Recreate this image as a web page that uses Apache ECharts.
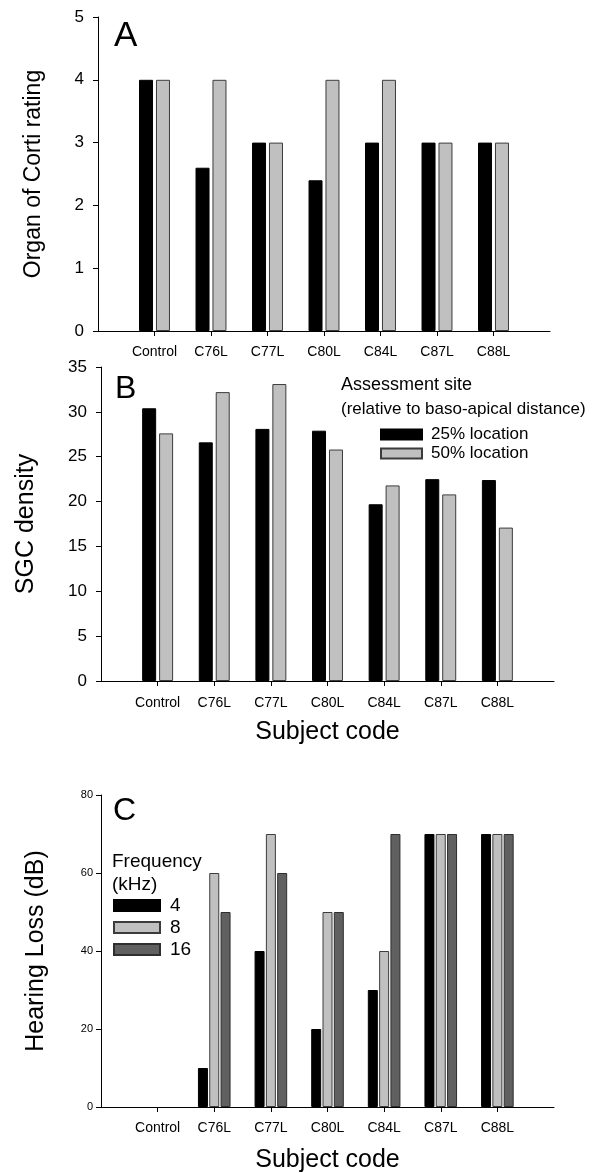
<!DOCTYPE html>
<html>
<head>
<meta charset="utf-8">
<script src="https://cdn.jsdelivr.net/npm/echarts@6/dist/echarts.min.js"></script>
<style>
  html, body { margin: 0; padding: 0; background: #fff; }
  #chart { width: 592px; height: 1173px; }
</style>
</head>
<body>
<div id="chart"></div>
<script>
// Subjects (shared by all three panels)
const subjects = ['Control', 'C76L', 'C77L', 'C80L', 'C84L', 'C87L', 'C88L'];

// Panel A: organ of Corti rating
const cortiAt25 = [4, 2.6, 3, 2.4, 3, 3, 3];
const cortiAt50 = [4, 4, 3, 4, 4, 3, 3];

// Panel B: SGC density by assessment site
const sgcAt25 = [30.4, 26.6, 28.1, 27.9, 19.7, 22.5, 22.4];
const sgcAt50 = [27.6, 32.2, 33.1, 25.8, 21.8, 20.8, 17.1];

// Panel C: hearing loss (dB) by frequency
const loss4k = [0, 10, 40, 20, 30, 70, 70];
const loss8k = [0, 60, 70, 50, 40, 70, 70];
const loss16k = [0, 50, 60, 50, 70, 70, 70];

// Axis tick values
const ticksA = [0, 1, 2, 3, 4, 5];
const ticksB = [0, 5, 10, 15, 20, 25, 30, 35];
const ticksC = [0, 20, 40, 60, 80];

const FONT = "'Liberation Sans', Arial, Helvetica, sans-serif";

// The x axis runs one empty slot past the first and last subject,
// so pad the category list and the series data on both ends.
// Zero-height bars get no outline so they leave no stub on the axis.
const cats = [''].concat(subjects, ['']);
const pad = arr => [null].concat(
  arr.map(v => (v === 0 ? { value: 0, itemStyle: { borderWidth: 0 } } : v)),
  [null]
);

const BLACK = { color: '#000000', borderColor: '#000000', borderWidth: 1 };
const LIGHT = { color: '#c0c0c0', borderColor: '#3c3c3c', borderWidth: 1 };
const DARK = { color: '#606060', borderColor: '#2e2e2e', borderWidth: 1 };

function xAxisFor(gridIndex, labelMargin, withName) {
  return {
    type: 'category',
    gridIndex: gridIndex,
    z: 3,
    data: cats,
    boundaryGap: false,
    axisLine: { show: true, lineStyle: { color: '#000', width: 1 } },
    axisTick: {
      show: true, inside: false, length: 5,
      interval: (i) => i > 0 && i < cats.length - 1,
      lineStyle: { color: '#000', width: 1 }
    },
    axisLabel: {
      interval: 0, margin: labelMargin, color: '#000',
      fontFamily: FONT, fontSize: 14
    },
    splitLine: { show: false },
    name: withName ? 'Subject code' : '',
    nameLocation: 'middle',
    nameGap: gridIndex === 2 ? 41 : 39,
    nameTextStyle: { fontFamily: FONT, fontSize: 25, color: '#000' }
  };
}

function yAxisFor(gridIndex, ticks, name, nameSize, nameGap, labelSize, labelMargin) {
  return {
    type: 'value',
    gridIndex: gridIndex,
    z: 3,
    min: ticks[0],
    max: ticks[ticks.length - 1],
    interval: ticks[1] - ticks[0],
    axisLine: { show: true, lineStyle: { color: '#000', width: 1 } },
    axisTick: { show: true, inside: false, length: 5, lineStyle: { color: '#000', width: 1 } },
    axisLabel: { color: '#000', fontFamily: FONT, fontSize: labelSize, margin: labelMargin },
    splitLine: { show: false },
    name: name,
    nameLocation: 'middle',
    nameRotate: 90,
    nameGap: nameGap,
    nameTextStyle: { fontFamily: FONT, fontSize: nameSize, color: '#000' }
  };
}

function bar(name, data, axisIndex, style, width, gap) {
  return {
    type: 'bar',
    name: name,
    xAxisIndex: axisIndex,
    yAxisIndex: axisIndex,
    data: pad(data),
    barWidth: width,
    barGap: gap,
    itemStyle: style,
    emphasis: { disabled: true },
    animation: false
  };
}

function label(text, x, y, size) {
  return {
    type: 'text', left: x, top: y,
    style: { text: text, font: size + 'px ' + FONT, fill: '#000' }
  };
}

const chart = echarts.init(document.getElementById('chart'), null, { renderer: 'canvas' });

chart.setOption({
  backgroundColor: '#ffffff',
  animation: false,
  grid: [
    { left: 98, right: 42, top: 17, height: 314, outerBoundsMode: 'none' },
    { left: 101, right: 38, top: 367, height: 314, outerBoundsMode: 'none' },
    { left: 101, right: 38, top: 795, height: 312, outerBoundsMode: 'none' }
  ],
  xAxis: [
    xAxisFor(0, 14, false),
    xAxisFor(1, 15, true),
    xAxisFor(2, 14, true)
  ],
  yAxis: [
    yAxisFor(0, ticksA, 'Organ of Corti rating', 23, 53, 17, 14),
    yAxisFor(1, ticksB, 'SGC density', 25, 62, 17, 14),
    yAxisFor(2, ticksC, 'Hearing Loss (dB)', 25, 52, 11, 8)
  ],
  legend: [
    {
      data: ['25% location', '50% location'],
      orient: 'vertical', left: 375, top: 421,
      itemWidth: 41, itemHeight: 10, itemGap: 2,
      icon: 'rect', selectedMode: false,
      textStyle: { fontFamily: FONT, fontSize: 17, lineHeight: 17, color: '#000', padding: [0, 0, 0, 4] }
    },
    {
      data: ['4', '8', '16'],
      orient: 'vertical', left: 108, top: 891,
      itemWidth: 46, itemHeight: 11, itemGap: 3,
      icon: 'rect', selectedMode: false,
      textStyle: { fontFamily: FONT, fontSize: 19, lineHeight: 19, color: '#000', padding: [0, 0, 0, 5] }
    }
  ],
  graphic: [
    label('A', 114, 19, 35),
    label('B', 115, 373, 32),
    label('C', 113, 795, 32),
    label('Assessment site', 341, 376, 18),
    label('(relative to baso-apical distance)', 341, 401, 17),
    label('Frequency', 112, 852, 19),
    label('(kHz)', 112, 875, 19)
  ],
  series: [
    bar('Rating at 25%', cortiAt25, 0, BLACK, 14, '21%'),
    bar('Rating at 50%', cortiAt50, 0, LIGHT, 14, '21%'),
    bar('25% location', sgcAt25, 1, BLACK, 14, '21%'),
    bar('50% location', sgcAt50, 1, LIGHT, 14, '21%'),
    bar('4', loss4k, 2, BLACK, 10, '13%'),
    bar('8', loss8k, 2, LIGHT, 10, '13%'),
    bar('16', loss16k, 2, DARK, 10, '13%')
  ]
});
</script>
</body>
</html>
